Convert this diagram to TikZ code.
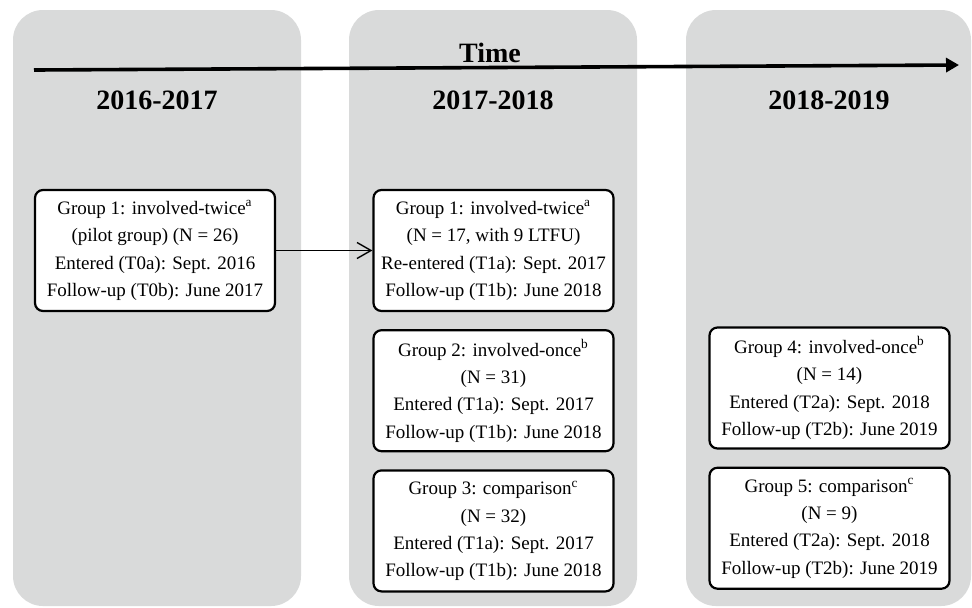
\documentclass[tikz,border=0pt]{standalone}
\usepackage{fontspec}
\setmainfont{Liberation Serif}
\usetikzlibrary{positioning,arrows.meta}
\definecolor{tkGray}{RGB}{217,218,218}

\begin{document}
\begin{tikzpicture}[x=0.5pt, y=-0.5pt, font=\fontsize{9.5}{13.7}\selectfont,
  grp/.style={draw, line width=1.1pt, fill=white, rounded corners=4pt,
    minimum width=120pt, minimum height=60.5pt, inner sep=0pt, align=center},
  yr/.style={font=\fontsize{14}{16}\selectfont\bfseries, anchor=base}]
\useasboundingbox (0,0) rectangle (972,607);
% 三列灰色背景（列宽 288，间隙 48）
\foreach \a/\b in {13/301, 349/637, 686/971}
  \fill[tkGray, rounded corners=15pt] (\a,10) rectangle (\b,606);
% 时间轴
\coordinate (t0) at (34,70);
\coordinate (t1) at (959,65);
\draw[line width=1.8pt, -{Triangle[length=6.5pt, width=7pt]}] (t0) -- (t1);
\node[yr] (time) at (490,62) {Time};
% 年份标题
\foreach \c/\yy in {157/2016-2017, 493/2017-2018, 829/2018-2019}
  \node[yr] (y\yy) at (\c,109) {\yy};
% 2016-2017
\node[grp] (g1a) at (155,250.5) {Group 1: involved-twice\textsuperscript{a}\\(pilot group) (N = 26)\\Entered (T0a): Sept. 2016\\Follow-up (T0b): June 2017};
% 2017-2018
\node[grp] (g1b) at (493.5,250.5) {Group 1: involved-twice\textsuperscript{a}\\(N = 17, with 9 LTFU)\\Re-entered (T1a): Sept. 2017\\Follow-up (T1b): June 2018};
\node[grp, below=8.5pt of g1b] (g2) {Group 2: involved-once\textsuperscript{b}\\(N = 31)\\Entered (T1a): Sept. 2017\\Follow-up (T1b): June 2018};
\node[grp, below=8.5pt of g2] (g3) {Group 3: comparison\textsuperscript{c}\\(N = 32)\\Entered (T1a): Sept. 2017\\Follow-up (T1b): June 2018};
% 2018-2019
\node[grp] (g4) at (829.5,388) {Group 4: involved-once\textsuperscript{b}\\(N = 14)\\Entered (T2a): Sept. 2018\\Follow-up (T2b): June 2019};
\node[grp, below=8.5pt of g4] (g5) {Group 5: comparison\textsuperscript{c}\\(N = 9)\\Entered (T2a): Sept. 2018\\Follow-up (T2b): June 2019};
% 重新进入
\draw[line width=0.7pt, -{Straight Barb[length=7pt, width=8pt]}] (g1a) -- (g1b);
\end{tikzpicture}
\end{document}
